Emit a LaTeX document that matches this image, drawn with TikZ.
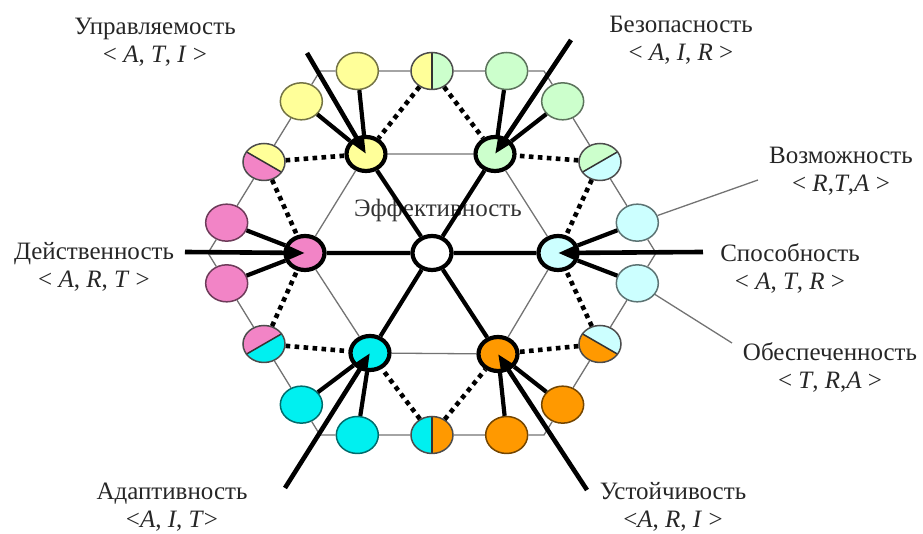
\documentclass[tikz,border=0pt]{standalone}
\usepackage{fontspec}
\setmainfont{Liberation Serif}
\usetikzlibrary{arrows.meta,calc,shapes.geometric}
\definecolor{yel}{HTML}{FFFF99}
\definecolor{grn}{HTML}{CCFFCC}
\definecolor{pnk}{HTML}{F284C6}
\definecolor{lcy}{HTML}{CCFFFF}
\definecolor{cyn}{HTML}{00F0F0}
\definecolor{org}{HTML}{FF9900}
\tikzset{
  onode/.style={ellipse, draw=#1!45!black, fill=#1, minimum width=21pt, minimum height=18.5pt, inner sep=0pt, line width=0.75pt},
  inode/.style={onode=#1, draw=black, line width=2.1pt, minimum width=19.5pt, minimum height=17pt},
  hnode/.style n args={3}{onode=#2, draw=black!70, path picture={
      \fill[#1] (path picture bounding box.center) -- ++(#3:20pt) -- ++(#3-90:20pt) -- ++(#3+180:40pt) -- ++(#3+90:20pt) -- cycle;
      \draw[black!80, line width=0.75pt] (path picture bounding box.center) ++(#3:15pt) -- ++(#3+180:30pt);}},
  grid/.style={black!55, line width=0.65pt},
  thk/.style={line width=2.1pt},
  dots/.style={line width=2.3pt, dash pattern=on 2.3pt off 2.2pt},
  arr/.style={-{Triangle[length=9pt, width=7pt]}, line width=2.3pt},
  lbl/.style={align=center, font=\fontsize{12.5}{14}\selectfont, text=black!85},
}

\begin{document}
\begin{tikzpicture}[x=0.5pt, y=0.5pt]
\useasboundingbox (-432,-281) rectangle (491,253);
\coordinate (v0) at (224,0);
\coordinate (v1) at (112,182);
\coordinate (v2) at (-112,182);
\coordinate (v3) at (-224,0);
\coordinate (v4) at (-112,-182);
\coordinate (v5) at (112,-182);
\node[lbl, text=black!80] (efl) at (6,43) {Эффективность};
\node[onode=lcy] (e0a) at ($(v0)!1/6!(v1)$) {};
\node[hnode={lcy}{grn}{30}] (e0b) at ($(v0)!1/2!(v1)$) {};
\node[onode=grn] (e0c) at ($(v0)!5/6!(v1)$) {};
\node[onode=grn] (e1a) at ($(v1)!1/6!(v2)$) {};
\node[hnode={grn}{yel}{90}] (e1b) at ($(v1)!1/2!(v2)$) {};
\node[onode=yel] (e1c) at ($(v1)!5/6!(v2)$) {};
\node[onode=yel] (e2a) at ($(v2)!1/6!(v3)$) {};
\node[hnode={yel}{pnk}{150}] (e2b) at ($(v2)!1/2!(v3)$) {};
\node[onode=pnk] (e2c) at ($(v2)!5/6!(v3)$) {};
\node[onode=pnk] (e3a) at ($(v3)!1/6!(v4)$) {};
\node[hnode={pnk}{cyn}{210}] (e3b) at ($(v3)!1/2!(v4)$) {};
\node[onode=cyn] (e3c) at ($(v3)!5/6!(v4)$) {};
\node[onode=cyn] (e4a) at ($(v4)!1/6!(v5)$) {};
\node[hnode={cyn}{org}{270}] (e4b) at ($(v4)!1/2!(v5)$) {};
\node[onode=org] (e4c) at ($(v4)!5/6!(v5)$) {};
\node[onode=org] (e5a) at ($(v5)!1/6!(v0)$) {};
\node[hnode={org}{lcy}{330}] (e5b) at ($(v5)!1/2!(v0)$) {};
\node[onode=lcy] (e5c) at ($(v5)!5/6!(v0)$) {};
\node[inode=lcy] (sp) at (126,0) {};
\node[inode=grn] (bz) at (63,99) {};
\node[inode=yel] (up) at (-66,99) {};
\node[inode=pnk] (dv) at (-127,0) {};
\node[inode=cyn] (ad) at (-62,-100) {};
\node[inode=org] (us) at (66,-101) {};
\node[inode=white] (ef) at (0,0) {};
\draw[grid] (e0a) -- (e0b) -- (e0c) -- (v1) -- (e1a) -- (e1b) -- (e1c) -- (v2) -- (e2a) -- (e2b) -- (e2c) -- (v3) -- (e3a) -- (e3b) -- (e3c) -- (v4) -- (e4a) -- (e4b) -- (e4c) -- (v5) -- (e5a) -- (e5b) -- (e5c) -- (v0) -- (e0a);
\draw[grid] (sp) -- (bz) -- (up) -- (dv) -- (ad) -- (us) -- (sp);
\draw[thk] (ef) -- (sp) (ef) -- (bz) (ef) -- (up) (ef) -- (dv) (ef) -- (ad) (ef) -- (us);
\draw[thk] (e0a) -- (sp) (e5c) -- (sp) (e1a) -- (bz) (e0c) -- (bz) (e2a) -- (up) (e1c) -- (up);
\draw[thk] (e3a) -- (dv) (e2c) -- (dv) (e4a) -- (ad) (e3c) -- (ad) (e5a) -- (us) (e4c) -- (us);
\draw[dots] (e0b) -- (sp) (e5b) -- (sp) (e1b) -- (bz) (e0b) -- (bz) (e2b) -- (up) (e1b) -- (up);
\draw[dots] (e3b) -- (dv) (e2b) -- (dv) (e4b) -- (ad) (e3b) -- (ad) (e5b) -- (us) (e4b) -- (us);
\node[lbl] (upl) at (-277,211) {Управляемость\\< \textit{A}, \textit{T}, \textit{I} >};
\node[lbl] (bzl) at (249,213) {Безопасность\\< \textit{A}, \textit{I}, \textit{R} >};
\node[lbl] (vzl) at (409,82) {Возможность\\< \textit{R},\textit{T},\textit{A} >};
\node[lbl] (spl) at (358,-15) {Способность\\< \textit{A}, \textit{T}, \textit{R} >};
\node[lbl] (obl) at (398,-114) {Обеспеченность\\< \textit{T}, \textit{R},\textit{A} >};
\node[lbl] (dvl) at (-338,-14) {Действенность\\< \textit{A}, \textit{R}, \textit{T} >};
\node[lbl] (adl) at (-260,-254) {Адаптивность\\<\textit{A}, \textit{I}, \textit{T}>};
\node[lbl] (usl) at (241,-254) {Устойчивость\\<\textit{A}, \textit{R}, \textit{I} >};
\coordinate (upa) at (-125,200);
\coordinate (bza) at (139,213);
\coordinate (dva) at (-247,1);
\coordinate (spa) at (271,1);
\coordinate (ada) at (-147,-235);
\coordinate (usa) at (155,-237);
\draw[arr] (upa) -- (up.center);
\draw[arr] (bza) -- (bz.center);
\draw[arr] (dva) -- (dv.center);
\draw[arr] (spa) -- (sp.center);
\draw[arr] (ada) -- (ad.center);
\draw[arr] (usa) -- (us.center);
\coordinate (vzt) at (326,73);
\coordinate (obt) at (300,-90);
\draw[grid] (e0a) -- (vzt);
\draw[grid] (e5c) -- (obt);
\end{tikzpicture}
\end{document}
